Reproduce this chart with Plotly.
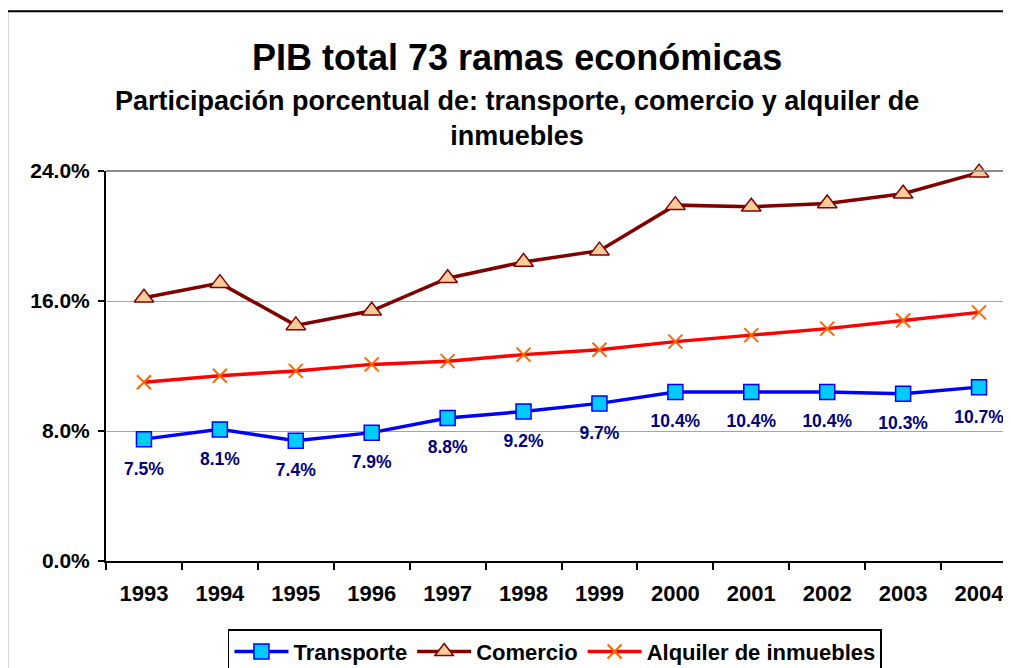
import plotly.graph_objects as go

years = ["1993", "1994", "1995", "1996", "1997", "1998", "1999", "2000", "2001", "2002", "2003", "2004"]
transporte = [7.5, 8.1, 7.4, 7.9, 8.8, 9.2, 9.7, 10.4, 10.4, 10.4, 10.3, 10.7]
comercio = [16.2, 17.1, 14.5, 15.4, 17.4, 18.4, 19.1, 21.9, 21.8, 22.0, 22.6, 23.9]
alquiler = [11.0, 11.4, 11.7, 12.1, 12.3, 12.7, 13.0, 13.5, 13.9, 14.3, 14.8, 15.3]
yticks = [0, 8, 16, 24]
ytick_labels = ["0.0%", "8.0%", "16.0%", "24.0%"]

FONT = "Liberation Sans, Arial, sans-serif"

fig = go.Figure()

fig.add_trace(go.Scatter(
    x=years, y=transporte, name="Transporte", mode="lines+markers", cliponaxis=False,
    line=dict(color="#0000FF", width=3.5),
    marker=dict(symbol="square", size=15, color="#00CCFF", line=dict(color="#0000FF", width=1.5)),
))
fig.add_trace(go.Scatter(
    x=years, y=comercio, name="Comercio", mode="lines+markers", cliponaxis=False,
    line=dict(color="#800000", width=3.5),
    marker=dict(symbol="triangle-up", size=17, color="#FFCC99", line=dict(color="#800000", width=1.5)),
))
fig.add_trace(go.Scatter(
    x=years, y=alquiler, name="Alquiler de inmuebles", mode="lines+markers", cliponaxis=False,
    line=dict(color="#FF0000", width=3.5),
    marker=dict(symbol="x-thin", size=14, color="#FF6600", line=dict(color="#FF6600", width=2)),
))

# etiquetas de transporte debajo de cada punto (marcador invisible para separar el texto)
fig.add_trace(go.Scatter(
    x=years, y=transporte, mode="markers+text", showlegend=False, hoverinfo="skip",
    text=["{:.1f}%".format(v) for v in transporte], textposition="bottom center",
    marker=dict(size=34, color="rgba(0,0,0,0)"), cliponaxis=False,
    textfont=dict(family=FONT, size=17.5, color="#000080", weight="bold"),
))

fig.add_annotation(xref="paper", yref="paper", x=0.4516, y=1.2912, yanchor="middle",
                   text="<b>PIB total 73 ramas económicas</b>", showarrow=False,
                   font=dict(family=FONT, size=36, color="black"))
fig.add_annotation(xref="paper", yref="paper", x=0.4516, y=1.1353, yanchor="middle",
                   text="<b>Participación porcentual de: transporte, comercio y alquiler de<br>inmuebles</b>",
                   showarrow=False, font=dict(family=FONT, size=27, color="black"))

# borde gris del área de trazado (arriba y derecha)
fig.add_shape(type="line", xref="paper", yref="paper", x0=0, x1=1, y0=1, y1=1,
              line=dict(color="#8C8C8C", width=2))
fig.add_shape(type="line", xref="paper", yref="paper", x0=1, x1=1, y0=0, y1=1,
              line=dict(color="#8C8C8C", width=1.5))
# marco exterior del gráfico
fig.add_shape(type="rect", xref="paper", yref="paper", x0=-0.1085, x1=1.05, y0=-0.4, y1=1.4098,
              line=dict(color="black", width=2), layer="below")

fig.update_xaxes(
    type="category", range=[-0.5, 11.5], tickson="boundaries",
    ticks="outside", ticklen=7, tickwidth=2, tickcolor="black",
    showline=True, linecolor="black", linewidth=2, showgrid=False,
    tickfont=dict(family=FONT, size=22, color="black", weight="bold"),
    ticklabelstandoff=12, automargin=False,
)
fig.update_yaxes(
    range=[0, 24], tickvals=yticks, ticktext=ytick_labels,
    ticks="outside", ticklen=6, tickwidth=2, tickcolor="black",
    showline=True, linecolor="black", linewidth=2,
    showgrid=True, gridcolor="#A6A6A6", gridwidth=1, zeroline=False,
    tickfont=dict(family=FONT, size=21, color="black", weight="bold"),
    ticklabelstandoff=4, automargin=False,
)

# la página desplaza la figura 8 px, los márgenes lo compensan
fig.update_layout(
    width=1011, height=668,
    margin=dict(l=98, r=2, t=163, b=109),
    paper_bgcolor="white", plot_bgcolor="white",
    font=dict(family=FONT, color="black"),
    showlegend=True,
    legend=dict(orientation="h", x=0.4928, xanchor="center", y=-0.175, yanchor="top",
                itemwidth=54,
                bgcolor="white", bordercolor="black", borderwidth=1.5,
                font=dict(family=FONT, size=22, color="black", weight="bold")),
)

fig.write_html("out.html")
